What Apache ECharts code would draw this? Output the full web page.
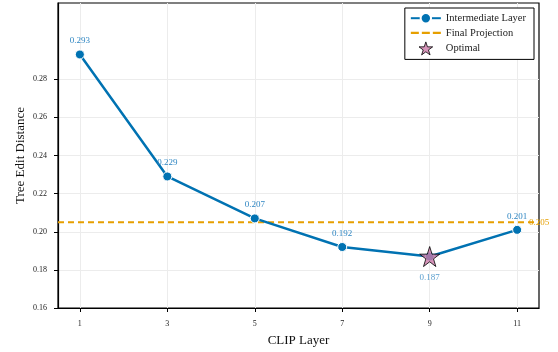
<!DOCTYPE html>
<html>
<head>
<meta charset="utf-8">
<script src="https://cdn.jsdelivr.net/npm/echarts@6/dist/echarts.min.js"></script>
<style>
  html, body { margin: 0; padding: 0; background: #fff; }
  #chart { width: 558px; height: 352px; }
</style>
</head>
<body>
<div id="chart"></div>
<script>
  // 数据
  const layers = [1, 3, 5, 7, 9, 11];
  const distances = [0.293, 0.229, 0.207, 0.192, 0.187, 0.201];
  const finalProjection = 0.205;
  const optimalLayer = 9;
  const optimalValue = 0.187;
  const xRange = [0.5, 11.5];
  const yTicks = [0.16, 0.18, 0.20, 0.22, 0.24, 0.26, 0.28];

  const font = 'Liberation Serif';
  const starPath = 'path://M50,0 L61.2,34.5 L97.6,34.5 L68.2,55.9 L79.4,90.5 L50,69.1 L20.6,90.5 L31.8,55.9 L2.4,34.5 L38.8,34.5 Z';
  // 图例里的虚线
  const dashIcon = 'path://M0,0 h8 v2.4 h-8 z M11,0 h8 v2.4 h-8 z M22,0 h8 v2.4 h-8 z';

  const chart = echarts.init(document.getElementById('chart'));
  chart.setOption({
    animation: false,
    textStyle: { fontFamily: font },
    grid: {
      left: 58, right: 19, top: 3, bottom: 41,
      show: true, borderColor: '#000', borderWidth: 1.2
    },
    legend: {
      right: 24, top: 8,
      orient: 'vertical',
      backgroundColor: '#fff',
      borderColor: '#000', borderWidth: 1,
      borderRadius: 0,
      padding: [4, 8, 4, 5],
      itemGap: 3,
      itemWidth: 30, itemHeight: 13,
      symbolKeepAspect: true,
      textStyle: { fontFamily: font, fontSize: 10.5, color: '#222' },
      data: [
        { name: 'Intermediate Layer' },
        { name: 'Final Projection', icon: dashIcon, itemStyle: { color: '#E69F00' } },
        { name: 'Optimal', icon: starPath, itemStyle: { color: '#CC79A7', borderColor: '#000', borderWidth: 1 } }
      ]
    },
    xAxis: {
      type: 'value',
      min: xRange[0], max: xRange[1],
      name: 'CLIP Layer',
      nameLocation: 'middle',
      nameGap: 26,
      nameMoveOverlap: false,
      nameTextStyle: { fontFamily: font, fontSize: 13, color: '#111' },
      axisLine: { show: true, lineStyle: { color: '#000', width: 1.2 } },
      axisTick: { show: true, customValues: layers, length: 4, lineStyle: { color: '#000' } },
      axisLabel: { customValues: layers, fontSize: 8, color: '#222', margin: 12, fontFamily: font },
      splitLine: { show: true, customValues: layers, lineStyle: { color: '#ececec', width: 1 } }
    },
    yAxis: {
      type: 'value',
      min: 0.16, max: 0.32, interval: 0.02,
      name: 'Tree Edit Distance',
      nameLocation: 'middle',
      nameGap: 31,
      nameMoveOverlap: false,
      nameTextStyle: { fontFamily: font, fontSize: 13, color: '#111' },
      axisLine: { show: true, lineStyle: { color: '#000', width: 1.2 } },
      axisTick: { show: true, customValues: yTicks, length: 4, lineStyle: { color: '#000' } },
      axisLabel: {
        customValues: yTicks, fontSize: 8, color: '#222', margin: 11, fontFamily: font,
        formatter: v => v.toFixed(2)
      },
      splitLine: {
        show: true,
        lineStyle: {
          color: ['#ececec', '#ececec', '#ececec', '#ececec', '#ececec', '#ececec', '#ececec', 'rgba(0,0,0,0)', 'rgba(0,0,0,0)']
        }
      }
    },
    series: [
      {
        name: 'Final Projection',
        type: 'line',
        data: xRange.map(x => [x, finalProjection]),
        symbol: 'none',
        silent: true,
        color: '#E69F00',
        itemStyle: { color: '#E69F00' },
        lineStyle: { color: '#E69F00', width: 2, type: [6, 4] },
        endLabel: {
          show: true,
          distance: -10,
          color: '#E69F00', fontSize: 9, fontFamily: font,
          formatter: () => finalProjection.toFixed(3)
        },
        z: 2
      },
      {
        name: 'Intermediate Layer',
        type: 'line',
        data: layers.map((l, i) => [l, distances[i]]),
        symbol: 'circle',
        symbolSize: 9,
        color: '#0072B2',
        itemStyle: { color: '#0072B2', borderColor: '#fff', borderWidth: 1 },
        lineStyle: { color: '#0072B2', width: 2.5 },
        label: {
          show: true,
          position: 'top',
          distance: 4,
          fontSize: 9,
          fontFamily: font,
          color: '#2f86c2',
          formatter: p => p.value[0] === optimalLayer ? '' : p.value[1].toFixed(3)
        },
        z: 3
      },
      {
        name: 'Optimal',
        type: 'scatter',
        data: [[optimalLayer, optimalValue]],
        symbol: starPath,
        symbolSize: 20,
        itemStyle: { color: '#CC79A7', borderColor: '#000', borderWidth: 1 },
        label: {
          show: true,
          position: 'bottom',
          distance: 6,
          fontSize: 9,
          fontFamily: font,
          color: '#2f86c2',
          formatter: p => p.value[1].toFixed(3)
        },
        z: 5
      }
    ]
  });
</script>
</body>
</html>
